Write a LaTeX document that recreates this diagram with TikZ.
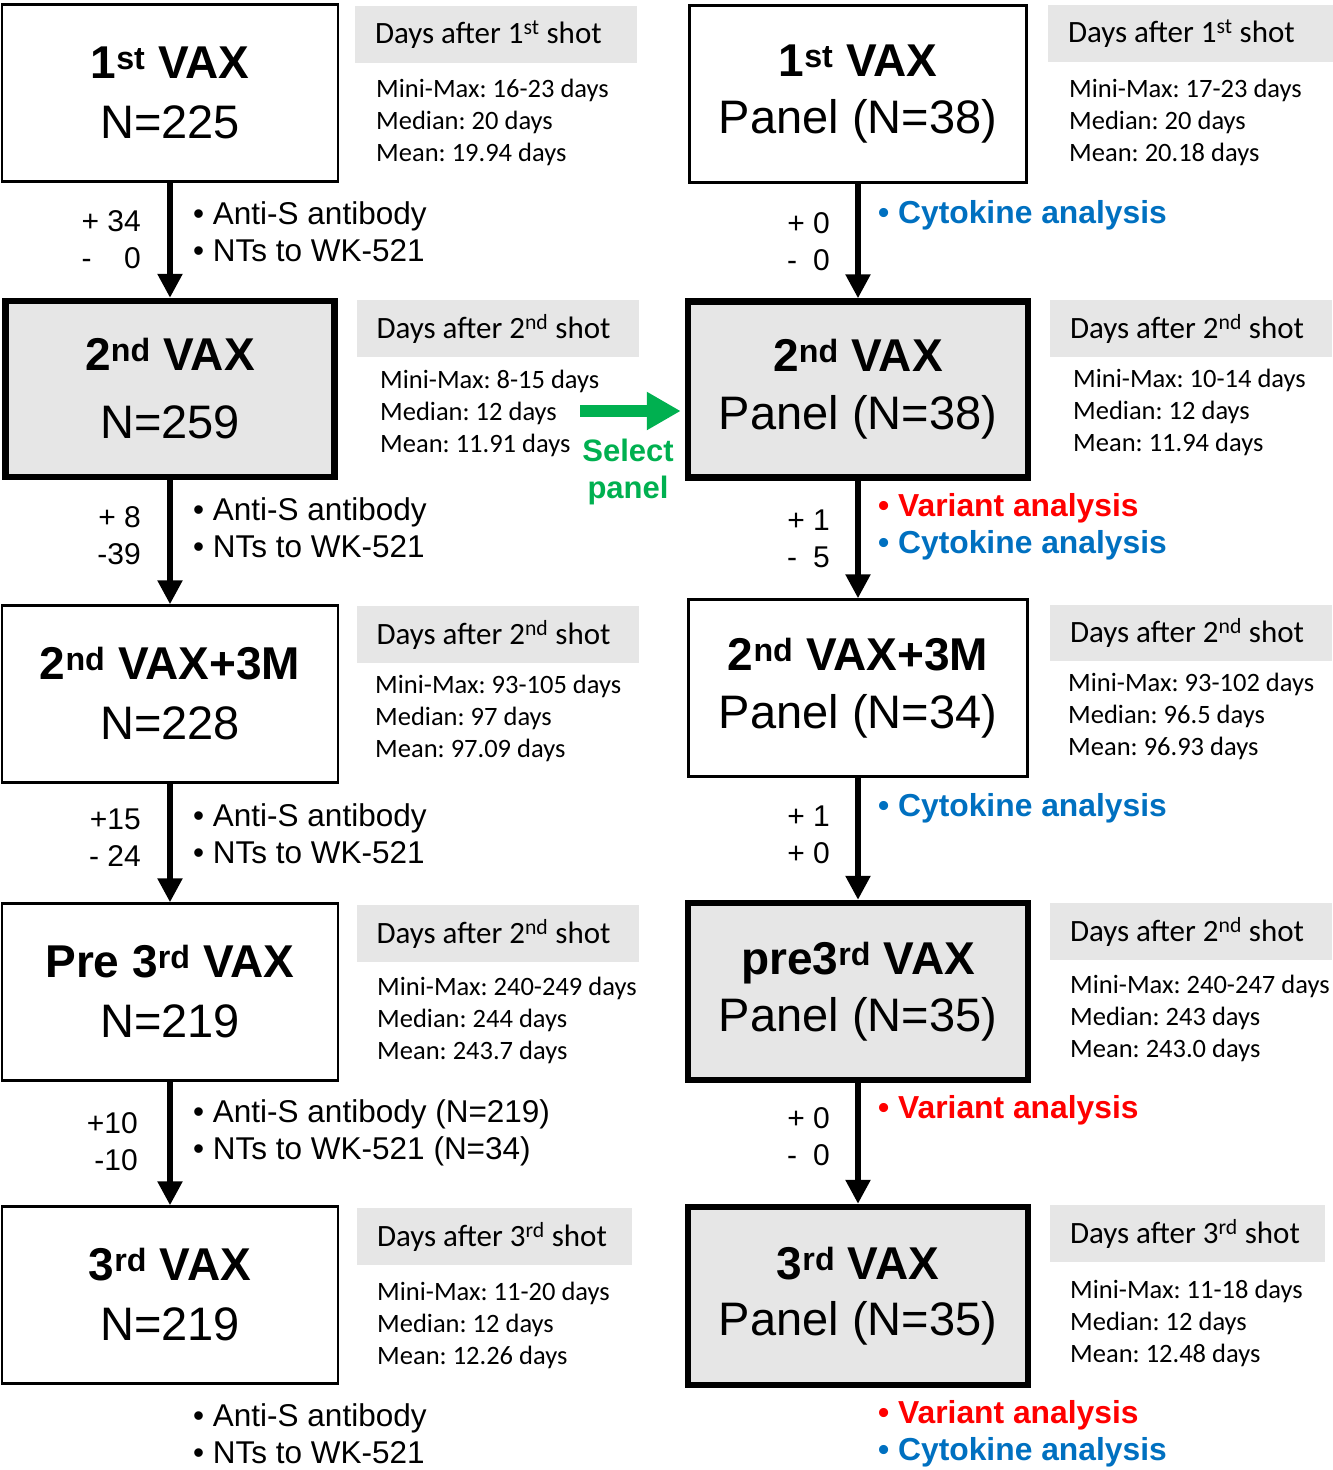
\documentclass[tikz,border=0pt]{standalone}
\usepackage{fontspec}
\setmainfont{Liberation Sans}
\newfontfamily\calib{Carlito}
\usetikzlibrary{arrows.meta}
\definecolor{boxgray}{HTML}{E6E6E6}
\definecolor{cytoblue}{HTML}{0070C0}
\definecolor{varred}{HTML}{FF0000}
\definecolor{selgreen}{HTML}{00B050}
\frenchspacing
\newcommand\ord[2]{#1\textsuperscript{#2}}
\newcommand\vax[2]{{\bfseries #1}\\{\fontsize{47}{60}\selectfont #2}}
\newcommand\after[3][242pt]{\makebox[#1][l]{Days after \ord{#2}{#3} shot}}
\newcommand\cyto{{\color{cytoblue}\bfseries\fontsize{31.8}{37}\selectfont\textbullet\ Cytokine analysis}}
\newcommand\variant{{\color{varred}\bfseries\fontsize{31.8}{37}\selectfont\textbullet\ Variant analysis}}

\begin{document}
\begin{tikzpicture}[x=1pt, y=-1pt,
    vaxbox/.style={draw, line width=2.5pt, fill=white, minimum width=336pt, minimum height=177pt,
        align=center, inner sep=0pt, font=\fontsize{46}{60}\selectfont},
    panelbox/.style={vaxbox, line width=6.5pt, fill=boxgray, minimum width=340pt, minimum height=176pt},
    dayhead/.style={fill=boxgray, inner xsep=20pt, inner ysep=0pt, minimum height=57pt,
        font=\calib\fontsize{31}{31}\selectfont},
    daystat/.style={anchor=west, align=left, inner sep=0pt, font=\calib\fontsize{26.5}{32}\selectfont},
    assay/.style={anchor=west, align=left, inner sep=0pt, font=\fontsize{31.5}{37}\selectfont},
    change/.style={anchor=east, align=right, inner sep=0pt, font=\fontsize{30}{37}\selectfont},
    flow/.style={line width=5.5pt, -{Triangle[width=24pt,length=24pt]}},
    pick/.style={line width=12pt, draw=selgreen, -{Triangle[width=36pt,length=34pt]}, shorten >=4pt}]
    \useasboundingbox (0,0) rectangle (1333,1470);

    % whole cohort
    \node[vaxbox] (L1) at (170,93) {\vax{\ord{1}{st} VAX}{N=225}};
    \node[panelbox, minimum width=329pt, font=\fontsize{46}{68}\selectfont] (L2) at (170,389) {\vax{\ord{2}{nd} VAX}{N=259}};
    \node[vaxbox] (L3) at (170,694) {\vax{\ord{2}{nd} VAX+3M}{N=228}};
    \node[vaxbox] (L4) at (170,992) {\vax{Pre \ord{3}{rd} VAX}{N=219}};
    \node[vaxbox] (L5) at (170,1295) {\vax{\ord{3}{rd} VAX}{N=219}};
    \draw[flow] (L1) -- (L2);
    \draw[flow] (L2) -- (L3);
    \draw[flow] (L3) -- (L4);
    \draw[flow] (L4) -- (L5);

    \node[dayhead] (hL1) at (496,34.5) {\after{1}{st}};
    \node[dayhead] (hL2) at (497.5,328.5) {\after{2}{nd}};
    \node[dayhead] (hL3) at (497.5,634.5) {\after{2}{nd}};
    \node[dayhead] (hL4) at (497.5,933.5) {\after{2}{nd}};
    \node[dayhead] (hL5) at (494.5,1236.5) {\after[235pt]{3}{rd}};
    \node[daystat] (sL1) at (376,122) {Mini-Max: 16-23 days\\Median: 20 days\\Mean: 19.94 days};
    \node[daystat] (sL2) at (380,413) {Mini-Max: 8-15 days\\Median: 12 days\\Mean: 11.91 days};
    \node[daystat] (sL3) at (375,718) {Mini-Max: 93-105 days\\Median: 97 days\\Mean: 97.09 days};
    \node[daystat] (sL4) at (377,1020) {Mini-Max: 240-249 days\\Median: 244 days\\Mean: 243.7 days};
    \node[daystat] (sL5) at (377,1325) {Mini-Max: 11-20 days\\Median: 12 days\\Mean: 12.26 days};

    \node[change] (cL1) at (141,239.5) {+ 34\\-\hspace{1.08em}0};
    \node[change] (cL2) at (141,535.5) {+ 8\\-39};
    \node[change] (cL3) at (141,837.5) {+15\\- 24};
    \node[change] (cL4) at (138,1142) {+10\\-10};
    \node[assay] (aL1) at (193,231.5) {\textbullet\ Anti-S antibody\\\textbullet\ NTs to WK-521};
    \node[assay] (aL2) at (193,527.5) {\textbullet\ Anti-S antibody\\\textbullet\ NTs to WK-521};
    \node[assay] (aL3) at (193,833.5) {\textbullet\ Anti-S antibody\\\textbullet\ NTs to WK-521};
    \node[assay] (aL4) at (193,1132.5) {\textbullet\ Anti-S antibody (N=219)\\\textbullet\ NTs to WK-521 (N=34)};
    \node[assay] (aL5) at (193,1433.5) {\textbullet\ Anti-S antibody\\\textbullet\ NTs to WK-521};

    % panel
    \node[vaxbox, minimum width=337pt, font=\fontsize{46}{57}\selectfont] (R1) at (858,94) {\vax{\ord{1}{st} VAX}{Panel (N=38)}};
    \node[panelbox, font=\fontsize{46}{58}\selectfont] (R2) at (858,389.5) {\vax{\ord{2}{nd} VAX}{Panel (N=38)}};
    \node[vaxbox, minimum width=339pt, font=\fontsize{46}{58}\selectfont] (R3) at (858,688) {\vax{\ord{2}{nd} VAX+3M}{Panel (N=34)}};
    \node[panelbox, minimum height=177pt, font=\fontsize{46}{57}\selectfont] (R4) at (858,991.5) {\vax{pre\ord{3}{rd} VAX}{Panel (N=35)}};
    \node[panelbox, minimum height=178pt, font=\fontsize{46}{56}\selectfont] (R5) at (858,1296) {\vax{\ord{3}{rd} VAX}{Panel (N=35)}};
    \draw[flow] (R1) -- (R2);
    \draw[flow] (R2) -- (R3);
    \draw[flow] (R3) -- (R4);
    \draw[flow] (R4) -- (R5);

    \node[dayhead] (hR1) at (1190.5,33.5) {\after[245pt]{1}{st}};
    \node[dayhead] (hR2) at (1191,328.5) {\after{2}{nd}};
    \node[dayhead, minimum height=56pt] (hR3) at (1191,633) {\after{2}{nd}};
    \node[dayhead] (hR4) at (1191,931.5) {\after{2}{nd}};
    \node[dayhead] (hR5) at (1187.5,1233.5) {\after[235pt]{3}{rd}};
    \node[daystat] (sR1) at (1069,122) {Mini-Max: 17-23 days\\Median: 20 days\\Mean: 20.18 days};
    \node[daystat] (sR2) at (1073,412) {Mini-Max: 10-14 days\\Median: 12 days\\Mean: 11.94 days};
    \node[daystat] (sR3) at (1068,716) {Mini-Max: 93-102 days\\Median: 96.5 days\\Mean: 96.93 days};
    \node[daystat] (sR4) at (1070,1018) {Mini-Max: 240-247 days\\Median: 243 days\\Mean: 243.0 days};
    \node[daystat] (sR5) at (1070,1323) {Mini-Max: 11-18 days\\Median: 12 days\\Mean: 12.48 days};

    \node[change] (cR1) at (830,242) {+ 0\\-\hspace{0.53em}0};
    \node[change] (cR2) at (830,539) {+ 1\\-\hspace{0.53em}5};
    \node[change] (cR3) at (830,834.5) {+ 1\\+ 0};
    \node[change] (cR4) at (830,1136.5) {+ 0\\-\hspace{0.53em}0};
    \node[assay] (aR1) at (878,215) {\cyto};
    \node[assay] (aR2) at (878,526.5) {\variant\\\cyto};
    \node[assay] (aR3) at (878,808) {\cyto};
    \node[assay] (aR4) at (878,1110) {\variant};
    \node[assay] (aR5) at (878,1434) {\variant\\\cyto};

    % select panel
    \coordinate (sel) at (580,411);
    \draw[pick] (sel) -- (sel -| R2.west);
    \node[font=\bfseries\fontsize{31}{37}\selectfont, text=selgreen, align=center] (selnote) at (628,471.5) {Select\\panel};
\end{tikzpicture}
\end{document}
